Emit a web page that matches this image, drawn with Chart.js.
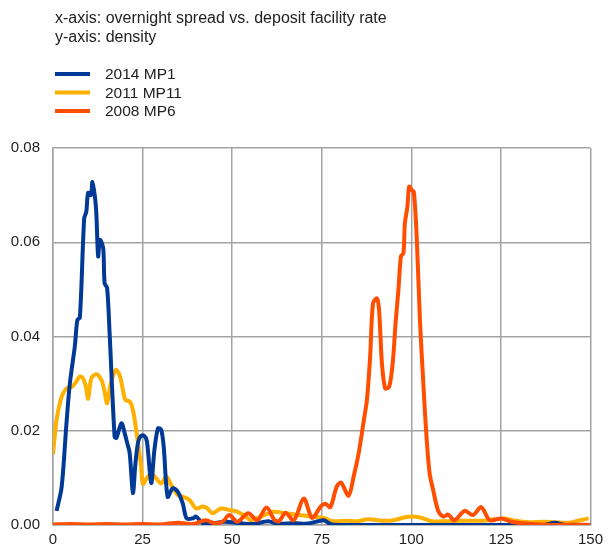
<!DOCTYPE html>
<html>
<head>
<meta charset="utf-8">
<script src="https://cdn.jsdelivr.net/npm/chart.js@4"></script>
<style>
  body { margin: 0; background: #fff; }
  #wrap { position: relative; width: 609px; height: 553px; }
</style>
</head>
<body>
<div id="wrap"><canvas id="myChart"></canvas></div>
<script>
const titleLines = ["x-axis: overnight spread vs. deposit facility rate", "y-axis: density"];
const seriesNames = ["2014 MP1", "2011 MP11", "2008 MP6"];
const seriesColors = ["#003a96", "#ffb000", "#ff4e00"];

const xTicks = [0, 25, 50, 75, 100, 125, 150];
const yTicks = [0, 0.02, 0.04, 0.06, 0.08];

// 2014 MP1
const mp1X = [1.0, 2.4, 3.8, 4.7, 6.1, 6.8, 7.5, 8.7, 9.3, 9.8, 10.6, 11.0, 11.7, 12.1, 12.6, 13.1, 14.0, 14.4, 15.1, 15.8,
  17.2, 17.7, 19.1, 20.0, 20.7, 21.4, 22.3, 23.0, 23.7, 24.4, 25.3, 26.2, 27.4, 28.3, 29.3, 30.2, 30.9, 32.0, 33.4, 34.8,
  36.2, 37.3, 39.0, 39.9, 41.8, 44, 48, 52, 56, 60, 63, 67, 71, 74, 75.5, 77.8, 80, 90, 100, 110, 120, 130, 137, 140, 143, 150];
const mp1Y = [0.003, 0.008, 0.022, 0.030, 0.038, 0.0435, 0.044, 0.065, 0.0665, 0.0705, 0.070, 0.0728, 0.0697, 0.066, 0.057, 0.0605, 0.0588, 0.0513, 0.0503, 0.0407,
  0.0187, 0.0185, 0.0216, 0.0195, 0.0174, 0.0153, 0.0068, 0.013, 0.0174, 0.0188, 0.019, 0.0178, 0.0089, 0.0159, 0.0205, 0.0202, 0.0166, 0.006, 0.0078, 0.0071,
  0.0046, 0.0014, 0.0014, 0.0018, 0.0004, 0.0003, 0.0007, 0.0004, 0.0002, 0.0008, 0.0002, 0.0004, 0.0003, 0.0008, 0.001, 0.0001, 0, 0, 0, 0, 0, 0, 0, 0.0005, 0, 0];

// 2011 MP11
const mp11X = [0, 1.0, 2.4, 3.8, 5.2, 6.1, 7.5, 8.4, 9.2, 9.8, 10.7, 12.1, 13.5, 14.3, 15.1, 16.1, 17.5, 18.6, 19.5, 20.2,
  21.4, 22.3, 23.2, 24.6, 25.1, 26.5, 27.9, 28.8, 30.2, 31.6, 33.0, 34.8, 36.2, 38.1, 39.9, 41.8, 43.1, 44.5, 46.9, 49.2,
  51.5, 53.8, 55.2, 58.0, 61.7, 64.9, 68.6, 72.3, 76.0, 77.9, 82, 85, 88, 92, 95, 98, 100, 102.5, 105.6, 110,
  115, 120, 123, 126, 129, 133, 137, 140, 144, 147, 149.5];
const mp11Y = [0.015, 0.0223, 0.0272, 0.029, 0.0293, 0.030, 0.0315, 0.0311, 0.0293, 0.0268, 0.0311, 0.032, 0.0308, 0.0287, 0.0258, 0.030, 0.0329, 0.0318, 0.0287, 0.0265,
  0.0262, 0.0244, 0.0202, 0.0124, 0.0087, 0.0103, 0.0106, 0.0099, 0.0088, 0.0103, 0.0085, 0.0064, 0.006, 0.0053, 0.0035, 0.0039, 0.0035, 0.0025, 0.0035, 0.0032,
  0.0028, 0.0018, 0.001, 0.0018, 0.0028, 0.0025, 0.0021, 0.0018, 0.0014, 0.0008, 0.0009, 0.0008, 0.0012, 0.0009, 0.001, 0.0016, 0.0018, 0.0016, 0.0008, 0.0008,
  0.0009, 0.0009, 0.0012, 0.0014, 0.0009, 0.0006, 0.0007, 0.0006, 0.0005, 0.001, 0.0014];

// 2008 MP6
const mp6X = [0, 5, 10, 15, 20, 25, 30, 35, 37, 39, 42.7, 45, 47.3, 49.2, 51.5, 54.5, 57, 59.6, 61.8, 63.1,
  64.9, 67.2, 70, 72.3, 74.8, 76, 77.4, 79.2, 80.4, 82.5, 83.9, 85.3, 86.7, 87.6, 88.5, 89.3, 90.4, 91.0, 91.8, 92.7,
  93.8, 94.8, 95.6, 96.4, 97.1, 97.8, 98.2, 98.9, 99.4, 100.1, 100.7, 101.5, 102.4, 103.4, 104.3, 105.1, 106.1, 107.5, 108.9, 110.3,
  112, 114.9, 117.2, 119.5, 121.9, 125.1, 127.9, 132, 139, 145, 150];
const mp6Y = [0.0001, 0.0002, 0.0001, 0.0002, 0.0001, 0.0002, 0.0001, 0.0005, 0.0003, 0.0002, 0.001, 0.0004, 0.0007, 0.0021, 0.0007, 0.0025, 0.001, 0.0037, 0.0011, 0.0008,
  0.0026, 0.001, 0.0056, 0.0015, 0.004, 0.0045, 0.0038, 0.0082, 0.009, 0.0062, 0.0103, 0.0152, 0.022, 0.0265, 0.0357, 0.047, 0.0481, 0.0456, 0.0343, 0.029,
  0.0293, 0.0343, 0.0428, 0.0499, 0.057, 0.0577, 0.064, 0.0675, 0.0718, 0.0711, 0.0707, 0.0612, 0.0435, 0.0293, 0.018, 0.011, 0.0074, 0.003, 0.0018, 0.0022,
  0.001, 0.003, 0.0021, 0.0038, 0.001, 0.0014, 0.0007, 0.0003, 0, 0.0001, 0];

function toPoints(xs, ys) {
  return xs.map((x, i) => ({ x: x, y: ys[i] }));
}

// header text and legend drawn onto the canvas
const headerPlugin = {
  id: "header",
  afterDraw(chart) {
    const ctx = chart.ctx;
    ctx.save();
    ctx.fillStyle = "#222";
    ctx.font = "16px 'Liberation Sans', Arial, sans-serif";
    ctx.textBaseline = "alphabetic";
    ctx.fillText(titleLines[0], 55, 23);
    ctx.fillText(titleLines[1], 55, 42);
    ctx.font = "15.5px 'Liberation Sans', Arial, sans-serif";
    const rows = [74, 92.5, 111];
    seriesNames.forEach((name, i) => {
      ctx.strokeStyle = seriesColors[i];
      ctx.lineWidth = 4;
      ctx.beginPath();
      ctx.moveTo(55, rows[i]);
      ctx.lineTo(90, rows[i]);
      ctx.stroke();
      ctx.textBaseline = "middle";
      ctx.fillText(name, 105, rows[i] + 1);
    });
    ctx.restore();
  },
};

const ctx = document.getElementById("myChart").getContext("2d");

new Chart(ctx, {
  type: "line",
  data: {
    datasets: [
      { label: seriesNames[0], data: toPoints(mp1X, mp1Y), borderColor: seriesColors[0], order: 1 },
      { label: seriesNames[1], data: toPoints(mp11X, mp11Y), borderColor: seriesColors[1], order: 2 },
      { label: seriesNames[2], data: toPoints(mp6X, mp6Y), borderColor: seriesColors[2], order: 0 },
    ],
  },
  options: {
    responsive: true,
    maintainAspectRatio: false,
    animation: false,
    layout: { padding: { top: 148, right: 16, left: 0, bottom: 0 } },
    elements: {
      line: { borderWidth: 4, tension: 0.3, fill: false, capBezierPoints: true },
      point: { radius: 0 },
    },
    plugins: {
      legend: { display: false },
      tooltip: { enabled: false },
    },
    scales: {
      x: {
        type: "linear",
        min: 0,
        max: 150,
        afterFit: (scale) => { scale.height = 28; },
        afterBuildTicks: (scale) => { scale.ticks = xTicks.map((v) => ({ value: v })); },
        grid: { color: "#a3a3a3", lineWidth: 1.5, drawTicks: false },
        border: { color: "#a3a3a3", width: 1.5 },
        ticks: { color: "#222", padding: 6, font: { size: 15, family: "'Liberation Sans', Arial, sans-serif" } },
      },
      y: {
        min: 0,
        max: 0.08,
        afterFit: (scale) => { scale.width = 53; },
        afterBuildTicks: (scale) => { scale.ticks = yTicks.map((v) => ({ value: v })); },
        grid: { color: "#a3a3a3", lineWidth: 1.5, drawTicks: false },
        border: { color: "#a3a3a3", width: 1.5 },
        ticks: {
          color: "#222",
          padding: 13,
          font: { size: 15, family: "'Liberation Sans', Arial, sans-serif" },
          callback: (v) => v.toFixed(2),
        },
      },
    },
  },
  plugins: [headerPlugin],
});
</script>
</body>
</html>
